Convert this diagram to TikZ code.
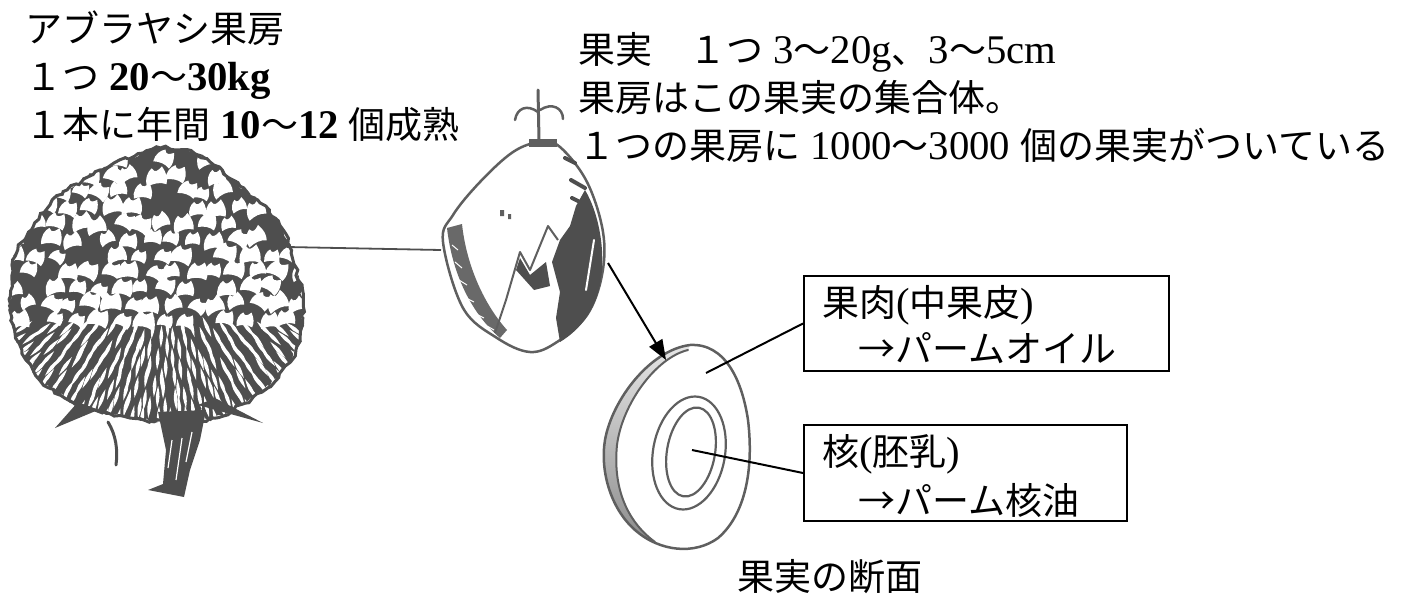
\documentclass[tikz,border=0pt]{standalone}
\usepackage{fontspec}
\setmainfont{Liberation Serif}[Scale=1.1]
\newfontfamily\jp{Noto Sans CJK JP}
\usetikzlibrary{arrows.meta,decorations.pathmorphing}
\newcommand\J[1]{{\jp #1}}
\definecolor{ink}{RGB}{78,78,78}
\definecolor{pencil}{RGB}{95,95,95}

\begin{document}
\begin{tikzpicture}[x=1pt,y=-1pt,
  txt/.style={anchor=base west, inner sep=0pt, font=\fontsize{37}{48}\selectfont},
  infobox/.style={draw=black, line width=2pt, anchor=north west, inner sep=0pt},
  leader/.style={draw=black, line width=2pt},
  sketch/.style={draw=pencil, line width=2.5pt, line join=round, line cap=round}]
\useasboundingbox (0,0) rectangle (1410,597);
\pgfmathsetseed{11}

% ---------- oil palm fruit bunch ----------
\fill[ink, decorate, decoration={random steps, segment length=5pt, amplitude=2.5pt}]
  plot[smooth cycle, tension=0.55] coordinates {(143,153) (160,148) (187,150) (210,162) (233,180) (260,203) (283,230) (293,260) (303,300) (300,337) (290,362) (262,392) (240,405) (215,418) (170,422) (130,418) (95,410) (65,398) (40,380) (22,350) (10,310) (12,275) (18,250) (33,227) (50,205) (67,190) (100,170) (120,160)};
\begin{scope}
  \clip plot[smooth cycle, tension=0.55] coordinates {(143,153) (160,148) (187,150) (210,162) (233,180) (260,203) (283,230) (293,260) (303,300) (300,337) (290,362) (262,392) (240,405) (215,418) (170,422) (130,418) (95,410) (65,398) (40,380) (22,350) (10,310) (12,275) (18,250) (33,227) (50,205) (67,190) (100,170) (120,160)};
  % scales of the upper part
  \foreach \r in {0,...,10}{
    \foreach \c in {0,...,13}{
      \pgfmathsetmacro\cx{16+\c*21+mod(\r,2)*10.5+4*rand}
      \pgfmathsetmacro\cy{162+\r*16+3*rand}
      \pgfmathsetmacro\sc{0.8+0.4*rnd}
      \pgfmathsetmacro\ang{30*rand}
      \pgfmathsetmacro\keep{rnd>0.15 ? 1 : 0}
      \begin{scope}[shift={(\cx,\cy)}, rotate=\ang, scale=\sc]
        \fill[white, opacity=\keep] (-9,4) .. controls (-10,-3) and (-6,-9) .. (-2,-11)
          .. controls (0,-6) and (3,-8) .. (7,-11)
          .. controls (10,-4) and (10,0) .. (8,5)
          .. controls (3,2) and (-3,2) .. cycle;
      \end{scope}
    }
  }
  % spiky fibres of the lower part
  \foreach \r in {0,...,9}{
    \foreach \c in {0,...,20}{
      \pgfmathsetmacro\cx{12+\c*14+mod(\r,2)*7+3*rand}
      \pgfmathsetmacro\cy{328+\r*10+2*rand}
      \pgfmathsetmacro\ddx{\cx-165}
      \pgfmathsetmacro\ddy{\cy-230}
      \pgfmathsetmacro\dd{veclen(\ddx,\ddy)}
      \pgfmathsetmacro\ux{\ddx/\dd}
      \pgfmathsetmacro\uy{\ddy/\dd}
      \fill[white] ({\cx-11*\ux},{\cy-11*\uy}) .. controls ({\cx-2.5*\uy},{\cy+2.5*\ux}) .. ({\cx+11*\ux},{\cy+11*\uy})
        .. controls ({\cx+2.5*\uy},{\cy-2.5*\ux}) .. cycle;
    }
  }
\end{scope}
\draw[ink, line width=3pt, decorate, decoration={random steps, segment length=5pt, amplitude=2pt}]
  plot[smooth cycle, tension=0.55] coordinates {(143,153) (160,148) (187,150) (210,162) (233,180) (260,203) (283,230) (293,260) (303,300) (300,337) (290,362) (262,392) (240,405) (215,418) (170,422) (130,418) (95,410) (65,398) (40,380) (22,350) (10,310) (12,275) (18,250) (33,227) (50,205) (67,190) (100,170) (120,160)};
% bracts and stalk
\fill[ink] (78,402) -- (55,428) -- (98,410) -- cycle;
\fill[ink] (198,405) -- (263,423) -- (215,398) -- cycle;
\fill[ink] (158,412) -- (206,410) -- (200,440) -- (190,470) -- (184,497) -- (148,490) -- (163,484) -- (166,450) -- cycle;
\draw[white, line width=1.2pt] (172,440) -- (168,468) (182,438) -- (176,480) (192,432) -- (186,462);
\draw[ink, line width=3pt, line cap=round] (108,422) .. controls (116,435) and (118,450) .. (116,465);

% ---------- single fruit ----------
\draw[sketch, fill=white] plot[smooth cycle, tension=0.6] coordinates {(540,142) (560,147) (587,182) (603,232) (602,275) (587,315) (557,342) (530,352) (497,338) (463,308) (443,242) (453,215) (480,182) (513,152)};
% stalk with curled leaves
\fill[pencil] (529,139) rectangle (557,147);
\draw[pencil, line width=3pt, line cap=round] (539,140) -- (538,90);
\draw[pencil, line width=2.5pt, line cap=round] (538,112) .. controls (527,104) and (517,108) .. (515,120);
\draw[pencil, line width=2.5pt, line cap=round] (540,110) .. controls (552,102) and (563,108) .. (563,119);
% shading on the right side
\fill[ink] (585,190) .. controls (600,215) and (606,255) .. (600,285) .. controls (595,310) and (580,330) .. (560,342)
  -- (556,318) -- (560,292) -- (552,262) -- (560,240) -- (570,226) -- (576,206) -- cycle;
\draw[white, line width=2pt, line cap=round] (594,240) -- (586,290);
\draw[ink, line width=4pt, line cap=round] (565,158) -- (575,163) (571,180) -- (585,188) (572,198) -- (588,206);
% shading along the lower left edge
\fill[ink!85] (447,228) .. controls (452,272) and (470,312) .. (500,338) -- (507,330) .. controls (482,302) and (466,262) .. (462,224) -- cycle;
\draw[white, line width=1pt] (452,245) -- (458,250) (455,262) -- (462,268) (459,280) -- (467,285) (466,298) -- (474,302) (476,314) -- (484,318) (487,326) -- (494,330);
% zigzag markings in the middle
\draw[pencil, line width=2pt, line join=round] (495,333) -- (506,300) -- (520,252) -- (530,270) -- (548,226) -- (558,240);
\fill[ink] (520,258) -- (530,275) -- (546,262) -- (550,286) -- (534,290) -- (516,270) -- cycle;
\fill[pencil] (500,210) rectangle (504,216) (508,214) rectangle (511,219);

% ---------- cross-section of the fruit ----------
\shade[top color=gray!20, bottom color=gray!90]
  (690,345) .. controls (650,350) and (612,400) .. (605,440) .. controls (600,470) and (610,508) .. (635,530)
  .. controls (645,540) and (650,542) .. (655,542) .. controls (625,520) and (613,485) .. (617,445)
  .. controls (622,405) and (655,358) .. (688,350) -- cycle;
\draw[sketch] (690,345) .. controls (725,343) and (742,380) .. (748,420) .. controls (754,470) and (745,515) .. (718,538)
  .. controls (695,555) and (660,552) .. (635,530) .. controls (610,508) and (600,470) .. (605,440)
  .. controls (612,400) and (650,350) .. (690,345) -- cycle;
\draw[sketch, line width=2pt] (688,350) .. controls (655,358) and (622,405) .. (617,445) .. controls (613,485) and (625,520) .. (655,542);
\draw[sketch, line width=2.2pt] (689,453) ellipse [x radius=36, y radius=57, rotate=-10];
\draw[sketch, line width=2.2pt] (691,452) ellipse [x radius=24, y radius=45, rotate=-10];

% ---------- texts ----------
\node[txt] (bunchA) at (25,42)  {\J{アブラヤシ果房}};
\node[txt] (bunchB) at (25,90)  {\J{１つ} \textbf{20}\J{〜}\textbf{30kg}};
\node[txt] (bunchC) at (25,138) {\J{１本に年間} \textbf{10}\J{〜}\textbf{12} \J{個成熟}};

\node[txt] (fruitA) at (578,63)  {\J{果実　１つ} 3\J{〜}20g\J{、}3\J{〜}5cm};
\node[txt] (fruitB) at (578,111) {\J{果房はこの果実の集合体。}};
\node[txt] (fruitC) at (578,159) {\J{１つの果房に} 1000\J{〜}3000 \J{個の果実がついている}};

\node[infobox, minimum width=365pt, minimum height=95pt] (fleshbox) at (803,275) {};
\node[txt] (fleshA) at (822,316) {\J{果肉}(\J{中果皮})};
\node[txt] (fleshB) at (858,362) {\J{→パームオイル}};

\node[infobox, minimum width=323pt, minimum height=96pt] (kernelbox) at (803,424) {};
\node[txt] (kernelA) at (822,465) {\J{核}(\J{胚乳})};
\node[txt] (kernelB) at (858,514) {\J{→パーム核油}};

\node[txt] (section) at (737,590) {\J{果実の断面}};

% ---------- connectors ----------
\coordinate (bunchE) at (287,247);
\coordinate (fruitW) at (441,250);
\coordinate (fruitSE) at (608,263);
\coordinate (secTop) at (666,360);
\coordinate (fleshPt) at (706,373);
\coordinate (kernelPt) at (692,450);
\draw[ink, line width=1.8pt] (bunchE) -- (fruitW);
\draw[black, line width=2pt, -{Triangle[length=20pt,width=15pt]}] (fruitSE) -- (secTop);
\draw[leader] (fleshbox.west) -- (fleshPt);
\draw[leader] (kernelbox.west) -- (kernelPt);
\end{tikzpicture}
\end{document}
